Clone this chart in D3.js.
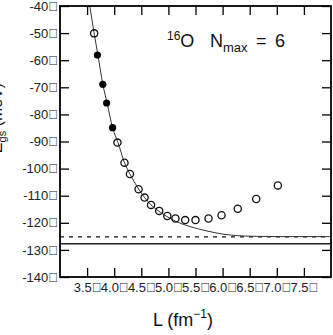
<!DOCTYPE html>
<html>
<head>
<meta charset="utf-8">
<script src="https://cdn.jsdelivr.net/npm/d3@7"></script>
<style>
  body { margin: 0; background: #fff; }
  svg { display: block; font-family: "Liberation Sans", Arial, sans-serif; }
</style>
</head>
<body>
<div id="chart"></div>
<script>
// open circles (L in fm^-1, E in MeV)
const openL = [3.63, 4.06, 4.19, 4.29, 4.45, 4.56, 4.68, 4.83, 4.98, 5.13, 5.31, 5.50, 5.74, 5.98, 6.28, 6.62, 7.02];
const openE = [-50.1, -90.4, -97.8, -102.0, -107.6, -110.7, -113.4, -115.6, -117.5, -118.4, -119.0, -119.0, -118.4, -117.2, -114.8, -111.2, -106.2];
// filled circles
const fillL = [3.69, 3.79, 3.86, 3.97];
const fillE = [-58.1, -68.9, -75.8, -84.9];
// fitted curve
const curveL = [3.55, 3.63, 3.70, 3.79, 3.87, 3.97, 4.07, 4.19, 4.29, 4.45, 4.56, 4.68, 4.85, 5.09, 5.40, 5.71, 6.01, 6.32, 6.62, 7.06, 8.0];
const curveE = [-40, -50.1, -58.1, -68.9, -75.9, -84.9, -90.4, -97.8, -102.0, -107.5, -110.7, -113.4, -116.1, -119.0, -121.4, -123.0, -124.2, -124.8, -125.0, -125.1, -125.1];
// horizontal reference lines
const dashedE = -125.2;
const solidE = -127.7;

const xTicks = [3.5, 4.0, 4.5, 5.0, 5.5, 6.0, 6.5, 7.0, 7.5];
const yTicks = [-140, -130, -120, -110, -100, -90, -80, -70, -60, -50, -40];
const box = "\uE000";

const W = 333, H = 335;
const margin = { top: 6, right: 2, bottom: 58, left: 60 };
const width = W - margin.left - margin.right,
    height = H - margin.top - margin.bottom;

const svg = d3.select("#chart").append("svg")
    .attr("width", W)
    .attr("height", H);

const x = d3.scaleLinear().domain([3, 8]).range([margin.left, margin.left + width]);
const y = d3.scaleLinear().domain([-140, -40]).range([margin.top + height, margin.top]);

svg.append("defs").append("clipPath").attr("id", "clip")
    .append("rect")
    .attr("x", margin.left).attr("y", margin.top)
    .attr("width", width).attr("height", height);

const plot = svg.append("g").attr("clip-path", "url(#clip)");

// reference lines
plot.append("line")
    .attr("x1", x(3)).attr("x2", x(8))
    .attr("y1", y(dashedE)).attr("y2", y(dashedE))
    .attr("stroke", "#111").attr("stroke-width", 1.3)
    .attr("stroke-dasharray", "4,5");
plot.append("line")
    .attr("x1", x(3)).attr("x2", x(8))
    .attr("y1", y(solidE)).attr("y2", y(solidE))
    .attr("stroke", "#222").attr("stroke-width", 1.5);

// curve
const curve = curveL.map((l, i) => [l, curveE[i]]);
plot.append("path")
    .datum(curve)
    .attr("fill", "none")
    .attr("stroke", "#333")
    .attr("stroke-width", 1)
    .attr("d", d3.line().x(d => x(d[0])).y(d => y(d[1])).curve(d3.curveMonotoneX));

// points
const openPts = openL.map((l, i) => [l, openE[i]]);
const fillPts = fillL.map((l, i) => [l, fillE[i]]);

plot.selectAll(".open").data(openPts).enter().append("circle")
    .attr("cx", d => x(d[0])).attr("cy", d => y(d[1]))
    .attr("r", 3.6)
    .attr("fill", "#fff").attr("fill-opacity", 0)
    .attr("stroke", "#111").attr("stroke-width", 1.3);

plot.selectAll(".fill").data(fillPts).enter().append("circle")
    .attr("cx", d => x(d[0])).attr("cy", d => y(d[1]))
    .attr("r", 3.6)
    .attr("fill", "#000");

// axes, ticks pointing inward on all sides
const fmtX = d => d3.format(".1f")(d) + box;
const fmtY = d => d + box;

const gx = svg.append("g")
    .attr("transform", `translate(0,${margin.top + height})`)
    .call(d3.axisBottom(x).tickValues(xTicks).tickFormat(fmtX).tickSizeInner(-9).tickSizeOuter(0).tickPadding(6));
const gxTop = svg.append("g")
    .attr("transform", `translate(0,${margin.top})`)
    .call(d3.axisTop(x).tickValues(xTicks).tickFormat("").tickSizeInner(-9).tickSizeOuter(0));
const gy = svg.append("g")
    .attr("transform", `translate(${margin.left},0)`)
    .call(d3.axisLeft(y).tickValues(yTicks).tickFormat(fmtY).tickSizeInner(-9).tickSizeOuter(0).tickPadding(2));
const gyRight = svg.append("g")
    .attr("transform", `translate(${margin.left + width},0)`)
    .call(d3.axisRight(y).tickValues(yTicks).tickFormat("").tickSizeInner(-9).tickSizeOuter(0));

[gx, gxTop, gy, gyRight].forEach(g => {
    g.select(".domain").remove();
    g.selectAll(".tick line").attr("stroke", "#000").attr("stroke-width", 1.3);
    g.selectAll("text").attr("fill", "#222").attr("font-size", 13)
        .attr("font-family", '"Liberation Sans", Arial, sans-serif');
});

// frame
svg.append("rect")
    .attr("x", margin.left).attr("y", margin.top)
    .attr("width", width).attr("height", height)
    .attr("fill", "none").attr("stroke", "#000").attr("stroke-width", 1.8);

// annotation
const ann = svg.append("text")
    .attr("y", 47)
    .attr("font-size", 18)
    .attr("fill", "#111");
ann.append("tspan").attr("x", 167).attr("font-size", 12).attr("dy", -7).text("16");
ann.append("tspan").attr("dy", 7).text("O");
ann.append("tspan").attr("x", 210).text("N");
ann.append("tspan").attr("font-size", 13).attr("dy", 5).text("max");
ann.append("tspan").attr("x", 256).attr("dy", -5).text("=");
ann.append("tspan").attr("x", 275).text("6");

// x axis title
const xt = svg.append("text")
    .attr("x", 183).attr("y", 326)
    .attr("text-anchor", "middle")
    .attr("font-size", 18)
    .attr("fill", "#111")
    .style("white-space", "pre");
xt.append("tspan").text("L (fm");
xt.append("tspan").attr("font-size", 12).attr("dy", -8).text("\u22121");
xt.append("tspan").attr("dy", 8).text(")");

// y axis title (mostly cut off at the left edge, as in the reference)
const yt = svg.append("text")
    .attr("transform", "translate(2,118) rotate(-90)")
    .attr("text-anchor", "middle")
    .attr("font-size", 16)
    .attr("fill", "#111")
    .style("white-space", "pre");
yt.append("tspan").text("E");
yt.append("tspan").attr("font-size", 11).attr("dy", 4).text("gs");
yt.append("tspan").attr("dy", -4).text(" (MeV)");
</script>
</body>
</html>
